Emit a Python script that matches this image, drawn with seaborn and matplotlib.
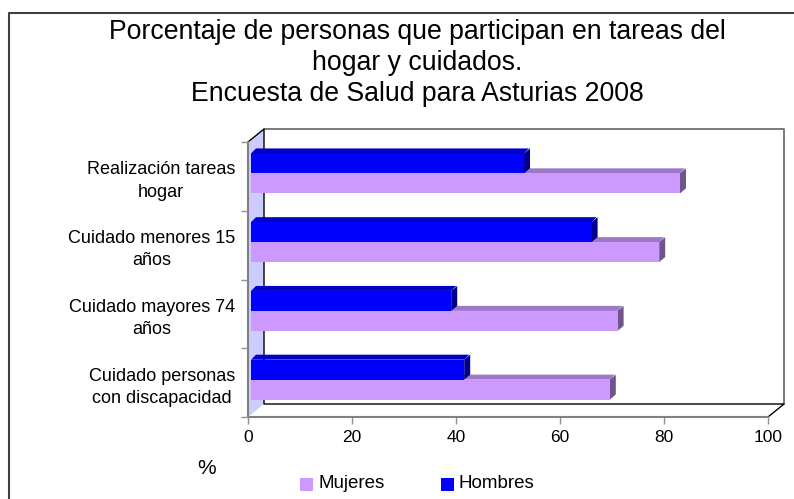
"""
Porcentaje de personas que participan en tareas del hogar y cuidados (3D style bars).
"""
import matplotlib
matplotlib.use("Agg")
import matplotlib.pyplot as plt
from matplotlib.patches import Polygon, Rectangle
from matplotlib.transforms import Affine2D
import pandas as pd
import seaborn as sns

categorias = ["Realización tareas\nhogar", "Cuidado menores 15\naños",
              "Cuidado mayores 74\naños", "Cuidado personas\ncon discapacidad"]
hombres = [52.5, 65.5, 38.5, 41]
mujeres = [82.5, 78.5, 70.5, 69]
ticks_x = [0, 20, 40, 60, 80, 100]

sns.set_style("white")
plt.rcParams["font.family"] = ["Liberation Sans", "DejaVu Sans"]
plt.rcParams["text.color"] = "black"

W, H = 794, 499
# front plane of the chart, in pixels
X0, X1, Y0, Y1 = 248, 768, 142, 417
DX, DY = 16, 13   # wall depth
BX, BY = 3, 3     # bar plane offset
MOR, AZU = "#CC99FF", "#0000FF"

df = pd.DataFrame({
    "cat": categorias * 2,
    "val": hombres + mujeres,
    "sexo": ["Hombres"] * 4 + ["Mujeres"] * 4,
})

fig = plt.figure(figsize=(W / 100, H / 100), dpi=100)

# full figure axes in pixel coords for the walls and frame
bg = fig.add_axes([0, 0, 1, 1], zorder=0)
bg.set_xlim(0, W); bg.set_ylim(H, 0); bg.axis("off")
bg.plot([9, 9, W], [H, 13, 13], color="#404040", lw=1.5)
bg.add_patch(Polygon([(X0, Y0), (X0 + DX, Y0 - DY), (X0 + DX, Y1 - DY), (X0, Y1)],
                     fc="#CCCCFF", ec="none"))
bg.plot([X0 + DX, X1 + DX, X1 + DX], [Y0 - DY, Y0 - DY, Y1 - DY], color="#707070", lw=1.3)
bg.plot([X0, X0 + DX, X0 + DX, X1 + DX, X1], [Y0, Y0 - DY, Y1 - DY, Y1 - DY, Y1],
        color="black", lw=1)
bg.plot([X0, X0], [Y0, Y1], color="#808080", lw=1.5)
bg.plot([X0, X1], [Y1, Y1], color="#808080", lw=1.5)

ax = fig.add_axes([X0 / W, 1 - Y1 / H, (X1 - X0) / W, (Y1 - Y0) / H], zorder=1)
ax.patch.set_alpha(0)
sns.barplot(data=df, y="cat", x="val", hue="sexo", hue_order=["Hombres", "Mujeres"],
            palette=[AZU, MOR], width=0.58, saturation=1, legend=False, ax=ax,
            edgecolor="none", linewidth=0)
ax.set_xlim(0, 100); ax.set_ylim(3.5, -0.5)
ax.set_xlabel(""); ax.set_ylabel("")
sns.despine(ax=ax, left=True, bottom=True)

ax.set_xticks(ticks_x)
ax.set_yticks(range(4))
ax.set_yticklabels(categorias, fontsize=13, ma="center", color="black", linespacing=1.4)
ax.set_yticks([-0.5, 0.5, 1.5, 2.5, 3.5], minor=True)
ax.tick_params(axis="x", length=5, width=1, color="#909090", labelsize=12.5, labelcolor="black",
               pad=4, bottom=True)
ax.tick_params(axis="y", which="major", length=0, pad=9.4)
ax.tick_params(axis="y", which="minor", length=5, width=1, color="#909090", left=True)
ax.grid(False)

# fake the 3D depth on each bar, built from the bars seaborn drew
fig.canvas.draw()
D = 5
for p in reversed(list(ax.patches)):
    col = p.get_facecolor()
    dark_top = tuple(c * 0.78 for c in col[:3])
    dark_side = tuple(c * 0.55 for c in col[:3])
    (x_a, y_a), (x_b, y_b) = ax.transData.transform(
        [(p.get_x(), p.get_y()), (p.get_x() + p.get_width(), p.get_y() + p.get_height())])
    xa, xb = x_a + BX, x_b + BX
    yt, yb = H - max(y_a, y_b) - BY, H - min(y_a, y_b) - BY
    ax.add_patch(Polygon([(xa, yt), (xa + D, yt - D), (xb + D, yt - D), (xb, yt)],
                         fc=dark_top, ec="none", transform=bg.transData, zorder=3, clip_on=False))
    ax.add_patch(Polygon([(xb, yt), (xb + D + 1, yt - D), (xb + D + 1, yb - D), (xb, yb)],
                         fc=dark_side, ec="none", transform=bg.transData, zorder=3, clip_on=False))
    p.set_transform(ax.transData + Affine2D().translate(BX, BY))
    p.set_clip_on(False)
    p.set_zorder(5)

bg.text(417, 63, "Porcentaje de personas que participan en tareas del\n"
        "hogar y cuidados.\nEncuesta de Salud para Asturias 2008",
        ha="center", va="center", fontsize=19.2, linespacing=1.27)
bg.text(207, 468, "%", ha="center", va="center", fontsize=15)

leg = [(300, MOR, "Mujeres"), (441, AZU, "Hombres")]
for x, c, t in leg:
    bg.add_patch(Rectangle((x, 478), 13, 13, fc=c, ec="none"))
    bg.text(x + 18, 484, t, va="center", fontsize=13.5)

fig.savefig("out.png", dpi=100)
